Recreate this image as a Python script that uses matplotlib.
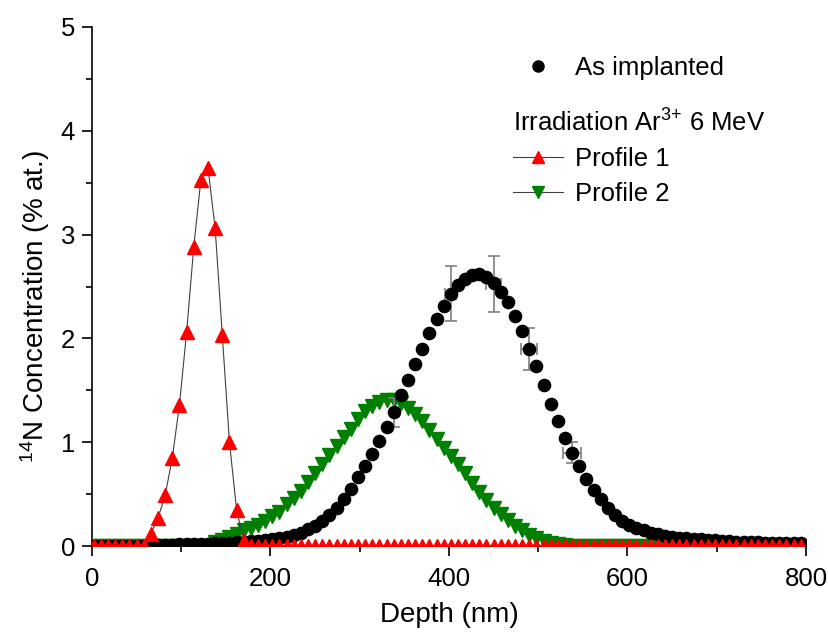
import numpy as np
import matplotlib
matplotlib.use("Agg")
import matplotlib.pyplot as plt
from matplotlib.lines import Line2D
from matplotlib.ticker import MultipleLocator

plt.rcParams["font.family"] = ["Liberation Sans", "DejaVu Sans"]
plt.rcParams["mathtext.fontset"] = "custom"
plt.rcParams["mathtext.rm"] = "Liberation Sans"
plt.rcParams["mathtext.it"] = "Liberation Sans:italic"
plt.rcParams["mathtext.default"] = "regular"

# depth grid (nm), same sampling for the three profiles
depth = np.arange(2, 800, 8)

# as implanted (black dots)
as_implanted = [
    0, 0, 0, 0, 0, 0, 0, 0,
    0.01, 0.01, 0.01, 0.01, 0.02, 0.02, 0.02, 0.02, 0.02, 0.03,
    0.03, 0.03, 0.04, 0.04, 0.05, 0.05, 0.06, 0.07, 0.08, 0.09,
    0.11, 0.13, 0.16, 0.19, 0.24, 0.30, 0.37, 0.45, 0.55, 0.66,
    0.77, 0.89, 1.01, 1.15, 1.29, 1.45, 1.60, 1.75, 1.90, 2.05,
    2.19, 2.31, 2.43, 2.51, 2.57, 2.61, 2.62, 2.59, 2.53, 2.45,
    2.35, 2.22, 2.07, 1.90, 1.73, 1.55, 1.37, 1.20, 1.04, 0.90,
    0.77, 0.65, 0.54, 0.45, 0.37, 0.30, 0.24, 0.20, 0.17, 0.15,
    0.13, 0.115, 0.10, 0.09, 0.08, 0.075, 0.07, 0.065, 0.06, 0.055,
    0.05, 0.045, 0.04, 0.04, 0.035, 0.035, 0.03, 0.03, 0.03, 0.025,
    0.025, 0.025,
]

# irradiation Ar3+ 6 MeV, profile 1 (red up triangles)
profile1 = [
    0, 0, 0, 0, 0, 0, 0, 0,
    0.12, 0.27, 0.49, 0.85, 1.36, 2.06, 2.88, 3.53, 3.64, 3.06,
    2.03, 1.00, 0.35, 0.05,
] + [0] * 78

# profile 2 (green down triangles)
profile2 = [0] * 17 + [
    0.04, 0.06, 0.09, 0.12, 0.15, 0.17, 0.20, 0.24, 0.29, 0.33,
    0.40, 0.46, 0.53, 0.62, 0.70, 0.79, 0.88, 0.96, 1.05, 1.13,
    1.22, 1.30, 1.35, 1.39, 1.41, 1.41, 1.38, 1.33, 1.27, 1.20,
    1.12, 1.03, 0.94, 0.87, 0.79, 0.70, 0.61, 0.52, 0.44, 0.37,
    0.31, 0.25, 0.19, 0.15, 0.11, 0.075, 0.05, 0.03, 0.02, 0.01,
] + [0] * 33

# error bars on a few as-implanted points
err_depth = [338, 402, 450, 490, 538]
err_val = [1.29, 2.43, 2.52, 1.90, 0.90]
err_y = [0.14, 0.265, 0.27, 0.20, 0.10]
err_x = [0, 6, 8, 9, 10]

fig = plt.figure(figsize=(8.29, 6.32), dpi=100)
ax = fig.add_axes([92 / 829, 1 - 546 / 632, 714 / 829, 519 / 632])

ax.plot(depth, profile2, color="#404040", lw=0.8, marker="v", ms=9.5,
        mfc="green", mec="green", zorder=3)
ax.errorbar(err_depth, err_val, yerr=err_y, xerr=err_x, fmt="none",
            ecolor="#7f7f7f", elinewidth=1.2, capsize=4, capthick=1.2,
            zorder=3.5)
ax.plot(depth, as_implanted, ls="none", marker="o", ms=8.8,
        mfc="black", mec="black", zorder=4)
ax.plot(depth, profile1, color="#404040", lw=0.8, marker="^", ms=10.5,
        mfc="red", mec="red", zorder=5)

ax.set_xlim(0, 800)
ax.set_ylim(0, 5)
ax.xaxis.set_major_locator(MultipleLocator(200))
ax.xaxis.set_minor_locator(MultipleLocator(100))
ax.yaxis.set_major_locator(MultipleLocator(1))
ax.yaxis.set_minor_locator(MultipleLocator(0.5))
ax.spines["top"].set_visible(False)
ax.spines["right"].set_visible(False)
for s in ["left", "bottom"]:
    ax.spines[s].set_linewidth(1.2)
ax.tick_params(which="major", direction="out", length=7.2, width=1.2,
               labelsize=18.5)
ax.tick_params(which="minor", direction="out", length=4.3, width=1.2)
ax.tick_params(axis="x", which="major", pad=8)
ax.tick_params(axis="y", which="major", pad=5)

ax.set_xlabel("Depth (nm)", fontsize=20, labelpad=8)
ax.set_ylabel("$^{14}$N Concentration (% at.)", fontsize=20)
ax.yaxis.set_label_coords(-0.056, 0.462)

# legends
h_imp = Line2D([], [], ls="none", marker="o", ms=8, color="black")
h_p1 = Line2D([], [], color="#404040", lw=0.8, marker="^", ms=9,
              mfc="red", mec="red")
h_p2 = Line2D([], [], color="#404040", lw=0.8, marker="v", ms=9,
              mfc="green", mec="green")

leg1 = ax.legend([h_imp], ["As implanted"], loc="upper left",
                 bbox_to_anchor=(513 / 829, 1 - 56 / 632),
                 bbox_transform=fig.transFigure, frameon=False, fontsize=18.5,
                 handlelength=1.95, handletextpad=0.45, borderpad=0,
                 borderaxespad=0)
ax.add_artist(leg1)
leg2 = ax.legend([h_p1, h_p2], ["Profile 1", "Profile 2"], loc="upper left",
                 bbox_to_anchor=(513 / 829, 1 - 109 / 632),
                 bbox_transform=fig.transFigure, frameon=False, fontsize=18.5,
                 title="Irradiation Ar$^{3{+}}$ 6 MeV", title_fontsize=18.5,
                 alignment="left", handlelength=1.95, handletextpad=0.45,
                 labelspacing=0.42, borderpad=0, borderaxespad=0)

fig.savefig("out.png", dpi=100)
